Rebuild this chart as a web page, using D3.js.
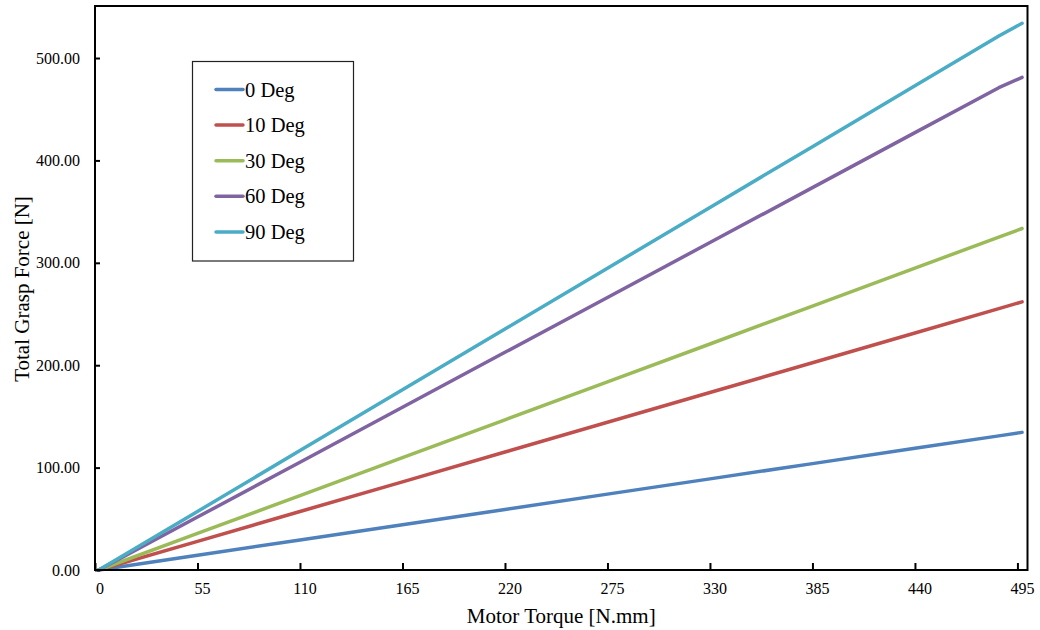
<!DOCTYPE html>
<html>
<head>
<meta charset="utf-8">
<script src="https://cdn.jsdelivr.net/npm/d3@7"></script>
<style>
  html, body { margin: 0; padding: 0; background: #fff; }
  svg { display: block; font-family: "Liberation Serif", "Times New Roman", serif; }
</style>
</head>
<body>
<svg id="chart" width="1040" height="630"></svg>
<script>
// Motor torque samples [N.mm]
const torque = [2, 55, 110, 165, 220, 275, 330, 385, 440, 485, 497.5];

// Total grasp force [N] for each finger angle
const deg0  = [0, 14.4, 29.3, 44.2, 59.1, 74.1, 89.0, 103.9, 118.8, 131.0, 134.4];
const deg10 = [0, 28.0, 57.1, 86.1, 115.2, 144.3, 173.3, 202.4, 231.5, 255.3, 261.9];
const deg30 = [0, 35.7, 72.7, 109.7, 146.7, 183.7, 220.7, 257.8, 294.8, 325.1, 333.5];
const deg60 = [0, 51.7, 105.3, 158.9, 212.6, 266.2, 319.8, 373.4, 427.1, 471.0, 481.1];
const deg90 = [0, 57.2, 116.6, 176.0, 235.3, 294.7, 354.1, 413.4, 472.8, 521.5, 533.9];

const seriesNames = ["0 Deg", "10 Deg", "30 Deg", "60 Deg", "90 Deg"];
const seriesValues = [deg0, deg10, deg30, deg60, deg90];
const seriesColors = ["#4F81BD", "#C0504D", "#9BBB59", "#8064A2", "#4BACC6"];

const xTicks = [0, 55, 110, 165, 220, 275, 330, 385, 440, 495];
const yTicks = [0, 100, 200, 300, 400, 500];

const svg = d3.select("#chart");
const plot = { left: 95, right: 1027.5, top: 6, bottom: 570 };

const x = d3.scaleLinear().domain([0, 500.4]).range([plot.left, plot.right]);
const y = d3.scaleLinear().domain([0, 550.8]).range([plot.bottom, plot.top]);

// series lines
const line = d3.line().x(d => d[0]).y(d => d[1]);
seriesValues.forEach((vals, i) => {
  const pts = vals.map((v, j) => [x(torque[j]), y(v)]);
  svg.append("path")
    .attr("d", line(pts))
    .attr("fill", "none")
    .attr("stroke", seriesColors[i])
    .attr("stroke-width", 3.5)
    .attr("stroke-linejoin", "round")
    .attr("stroke-linecap", "round");
});

// plot frame
svg.append("rect")
  .attr("x", plot.left).attr("y", plot.top)
  .attr("width", plot.right - plot.left).attr("height", plot.bottom - plot.top)
  .attr("fill", "none").attr("stroke", "#000").attr("stroke-width", 2);

// x axis
const gx = svg.append("g")
  .attr("transform", `translate(0,${plot.bottom})`)
  .call(d3.axisBottom(x).tickValues(xTicks).tickSize(-7).tickPadding(12.5).tickFormat(d3.format("d")));
gx.select(".domain").remove();
gx.selectAll(".tick line").attr("stroke", "#000").attr("stroke-width", 2);
gx.selectAll(".tick text").attr("dx", 4.5).attr("font-size", 16)
  .attr("font-family", "Liberation Serif, Times New Roman, serif").attr("fill", "#000");

// y axis
const gy = svg.append("g")
  .attr("transform", `translate(${plot.left},0)`)
  .call(d3.axisLeft(y).tickValues(yTicks).tickSize(-5).tickPadding(15).tickFormat(d3.format(".2f")));
gy.select(".domain").remove();
gy.selectAll(".tick line").attr("stroke", "#000").attr("stroke-width", 2);
gy.selectAll(".tick text").attr("font-size", 16)
  .attr("font-family", "Liberation Serif, Times New Roman, serif").attr("fill", "#000");

// axis titles
svg.append("text")
  .attr("x", (plot.left + plot.right) / 2).attr("y", 623)
  .attr("text-anchor", "middle").attr("font-size", 21).attr("fill", "#000")
  .text("Motor Torque [N.mm]");
svg.append("text")
  .attr("transform", `translate(28.5,${(plot.top + plot.bottom) / 2 + 1}) rotate(-90)`)
  .attr("text-anchor", "middle").attr("font-size", 21).attr("fill", "#000")
  .text("Total Grasp Force [N]");

// legend
const legend = svg.append("g");
legend.append("rect")
  .attr("x", 192.5).attr("y", 61.5).attr("width", 161).attr("height", 199.5)
  .attr("fill", "#fff").attr("stroke", "#222").attr("stroke-width", 1.2);
seriesNames.forEach((name, i) => {
  const ly = 89.5 + i * 35.6;
  legend.append("line")
    .attr("x1", 216).attr("x2", 243).attr("y1", ly).attr("y2", ly)
    .attr("stroke", seriesColors[i]).attr("stroke-width", 3.5).attr("stroke-linecap", "round");
  legend.append("text")
    .attr("x", 245).attr("y", ly + 7)
    .attr("font-size", 20.5).attr("fill", "#000")
    .text(name);
});
</script>
</body>
</html>
